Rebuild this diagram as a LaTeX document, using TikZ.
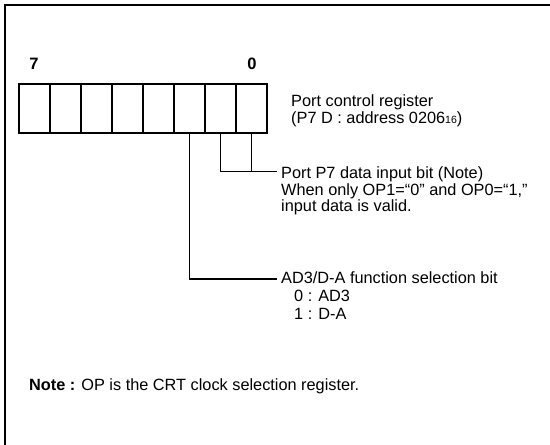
\documentclass[tikz,border=0pt]{standalone}
\usepackage{fontspec}
\setmainfont{Liberation Sans}
\begin{document}
\begin{tikzpicture}[x=1pt,y=1pt,
  cell/.style={draw,line width=1.8pt,minimum width=31pt,minimum height=49pt,inner sep=0pt,outer sep=0pt},
  txt/.style={anchor=base west,inner sep=0pt,font=\fontsize{16.3}{17}\selectfont},
  bitlbl/.style={anchor=base,inner sep=0pt,font=\fontsize{16.5}{17}\selectfont\bfseries},
  conn/.style={line width=1.1pt},
  frame/.style={line width=2.2pt}]
\useasboundingbox (0,0) rectangle (550,445);
% frame
\coordinate (fb) at (5,0);
\coordinate (fc) at (5,440);
\coordinate (fr) at (550,440);
\draw[frame] (fb) -- (fc) -- (fr);
% register cells (bit 7 .. bit 0)
\foreach \i in {0,...,7}{
  \node[cell] (b\i) at ({267-15.5-31*\i},336.5) {};
}
\node[bitlbl] (l7) at (34,375) {7};
\node[bitlbl] (l0) at (252,375) {0};
% register title
\node[txt] (t1) at (291,338) {Port control register};
\node[txt] (t2) at (291,321) {(P7 D : address 0206{\fontsize{10.5}{10}\selectfont 16})};
% bits 0,1
\node[txt] (p1) at (281,266) {Port P7 data input bit (Note)};
\node[txt] (p2) at (281,249.5) {When only OP1=“0” and OP0=“1,”};
\node[txt] (p3) at (281,233) {input data is valid.};
\coordinate (j1) at (b1.south |- 0,273.3);
\coordinate (j0) at (b0.south |- 0,273.3);
\coordinate (e1) at (277,273.3);
\draw[conn] (b1.south) -- (j1) -- (e1);
\draw[conn] (b0.south) -- (j0);
% bit 2
\node[txt] (a1) at (281,161) {AD3/D-A function selection bit};
\node[txt] (a2) at (294,143) {0 : AD3};
\node[txt] (a3) at (294,125.5) {1 : D-A};
\coordinate (j2) at (b2.south |- 0,166);
\coordinate (e2) at (277,166);
\draw[conn] (b2.south) -- (j2) -- (e2);
% note
\node[txt] (n1) at (29,54) {\textbf{Note :} OP is the CRT clock selection register.};
\end{tikzpicture}
\end{document}
